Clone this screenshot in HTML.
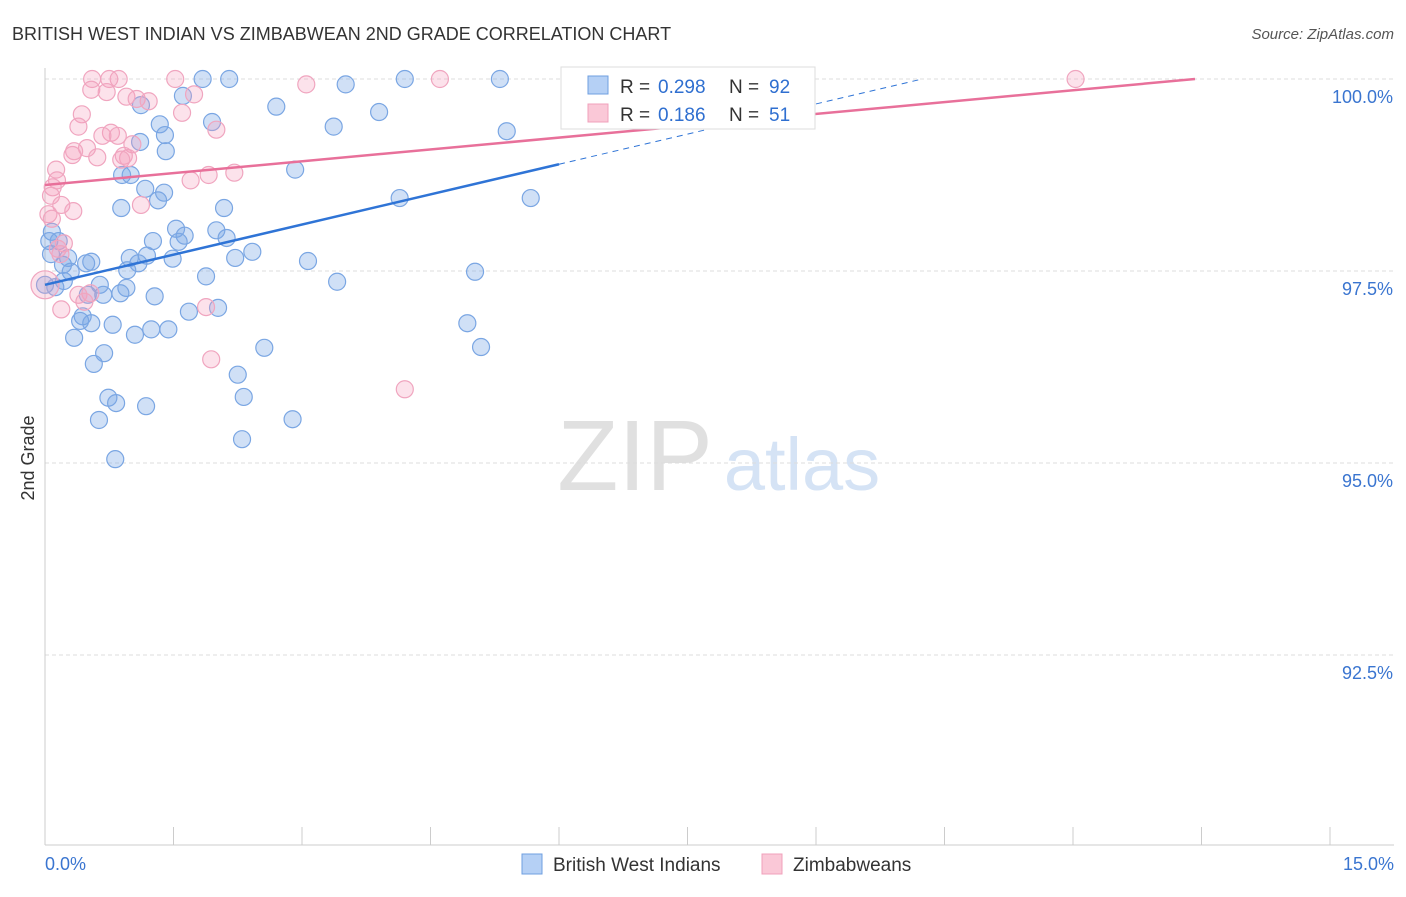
<!DOCTYPE html>
<html><head><meta charset="utf-8"><style>
body{margin:0;background:#fff;font-family:"Liberation Sans",sans-serif;}
svg text{font-family:"Liberation Sans",sans-serif;}
</style></head><body>
<svg id="chart" width="1406" height="892">
<text x="12" y="40" font-size="18" fill="#333">BRITISH WEST INDIAN VS ZIMBABWEAN 2ND GRADE CORRELATION CHART</text>
<text x="1394" y="39" font-size="15" fill="#555" font-style="italic" text-anchor="end">Source: ZipAtlas.com</text>
<text x="34" y="458" font-size="18" fill="#333" text-anchor="middle" transform="rotate(-90 34 458)">2nd Grade</text>
<g><text x="635" y="490" font-size="100" fill="#e0e0e0" font-family="Liberation Serif" text-anchor="middle">ZIP</text><text x="802" y="490" font-size="74" fill="#d5e3f5" text-anchor="middle">atlas</text></g>
<g id="grid"></g><g id="axes"></g><g id="pts"></g><g id="lines"></g>
<g>
<rect x="561" y="67" width="254" height="62" fill="#fff" stroke="#ddd"/>
<rect x="588" y="76" width="20" height="18" fill="#b5d0f5" stroke="#6f9fe0"/>
<text x="620" y="93" font-size="19" fill="#333">R =</text>
<text x="658" y="93" font-size="19" fill="#2f6fd0">0.298</text>
<text x="729" y="93" font-size="19" fill="#333">N =</text>
<text x="769" y="93" font-size="19" fill="#2f6fd0">92</text>
<rect x="588" y="104" width="20" height="18" fill="#fac8d7" stroke="#f0a0bb"/>
<text x="620" y="121" font-size="19" fill="#333">R =</text>
<text x="658" y="121" font-size="19" fill="#2f6fd0">0.186</text>
<text x="729" y="121" font-size="19" fill="#333">N =</text>
<text x="769" y="121" font-size="19" fill="#2f6fd0">51</text>
</g>
<g>
<rect x="522" y="854" width="20" height="20" fill="#b5d0f5" stroke="#6f9fe0"/>
<text x="553" y="871" font-size="19" fill="#333">British West Indians</text>
<rect x="762" y="854" width="20" height="20" fill="#fac8d7" stroke="#f0a0bb"/>
<text x="793" y="871" font-size="19" fill="#333">Zimbabweans</text>
</g>
</svg>
<script>
const blueX=[1.84,2.15,4.20,5.31,3.51,1.61,1.12,2.70,3.90,1.34,1.95,3.37,5.39,1.40,1.11,1.41,2.92,0.90,1.00,1.17,1.39,1.32,4.14,5.67,0.89,2.09,1.53,2.00,0.08,1.63,1.26,2.12,0.05,0.16,1.56,2.42,1.19,0.99,2.22,3.07,0.07,1.49,0.27,0.54,0.48,1.09,0.21,0.96,0.30,1.88,5.02,3.41,0,0.22,0.64,0.12,0.95,0.50,0.68,0.88,1.28,2.02,1.68,0.44,0.41,0.54,0.79,1.24,1.44,4.93,1.05,0.34,0.69,2.56,5.09,0.57,2.25,0.74,0.83,1.18,2.32,0.63,2.89,2.30,0.82];
const blueY=[100,100,100,100,99.93,99.78,99.66,99.64,99.57,99.41,99.44,99.38,99.32,99.27,99.18,99.06,98.82,98.75,98.75,98.57,98.52,98.42,98.45,98.45,98.32,98.32,98.05,98.03,98.01,97.96,97.89,97.93,97.89,97.89,97.88,97.75,97.70,97.67,97.67,97.63,97.72,97.66,97.67,97.62,97.60,97.60,97.58,97.51,97.49,97.43,97.49,97.36,97.32,97.37,97.32,97.29,97.28,97.19,97.19,97.21,97.17,97.02,96.97,96.91,96.85,96.82,96.80,96.74,96.74,96.82,96.67,96.63,96.43,96.50,96.51,96.29,96.15,95.85,95.78,95.74,95.86,95.56,95.57,95.31,95.05];
const pinkX=[0.55,0.86,0.75,1.52,3.05,4.61,12.03,0.54,0.72,0.95,1.74,1.07,1.21,1.60,0.43,0.39,2.00,0.77,0.67,0.85,1.02,0.49,0.34,0.32,0.61,0.92,0.97,0.89,0.13,2.21,1.91,1.70,0.14,0.09,0.07,0.19,0.33,0.04,0.08,1.12,0.22,0.15,0.18,0.53,0.39,0.46,0.19,1.88,1.94,4.20,0];
const pinkY=[100,100,100,100,99.93,100,100,99.86,99.83,99.77,99.80,99.74,99.71,99.56,99.54,99.38,99.34,99.30,99.26,99.26,99.15,99.10,99.06,99.01,98.98,99.00,98.97,98.95,98.82,98.78,98.75,98.68,98.68,98.59,98.48,98.36,98.28,98.24,98.18,98.36,97.86,97.79,97.72,97.21,97.19,97.10,97.00,97.03,96.35,95.96,97.32];
const blueTrend=[97.32,0.2617];
const pinkTrend=[98.62,0.1028];
const yTicks=[100,97.5,95,92.5];
const yTickLabels=["100.0%","97.5%","95.0%","92.5%"];
const xTickVals=[0,1.5,3,4.5,6,7.5,9,10.5,12,13.5,15];
const NS='http://www.w3.org/2000/svg';
const X=v=>45+v/15*1285, Y=v=>79+(100-v)/2.5*192;
function mk(p,t,a){const e=document.createElementNS(NS,t);for(const k in a)e.setAttribute(k,a[k]);document.getElementById(p).appendChild(e);return e;}
yTicks.forEach((t,i)=>{
 const l=mk('grid','line',{x1:45,x2:1394,y1:Y(t),y2:Y(t),stroke:'#ddd','stroke-dasharray':'4,3'});
 
 
 const tx=mk('grid','text',{x:1393,y:Y(t)+24,'font-size':18,fill:'#3a75d0','text-anchor':'end'});tx.textContent=yTickLabels[i];
 
 
});
const ax=mk('axes','line',{x1:45,x2:1394,y1:845,y2:845,stroke:'#ccc'});


const ay=mk('axes','line',{x1:45,x2:45,y1:68,y2:845,stroke:'#ccc'});


xTickVals.forEach(v=>{const t=mk('axes','line',{x1:X(v),x2:X(v),y1:827,y2:845,stroke:'#ccc'});
 
 });
const xl0=mk('axes','text',{x:45,y:870,'font-size':18,fill:'#3a75d0'});xl0.textContent='0.0%';


const xl1=mk('axes','text',{x:1394,y:870,'font-size':18,fill:'#3a75d0','text-anchor':'end'});xl1.textContent='15.0%';


blueX.forEach((v,i)=>{const c=mk('pts','circle',{cx:X(v),cy:Y(blueY[i]),r:8.5,fill:'rgba(120,165,230,0.35)',stroke:'#7aa6e3','stroke-width':1.2});
 
 });
pinkX.forEach((v,i)=>{const c=mk('pts','circle',{cx:X(v),cy:Y(pinkY[i]),r:i==pinkX.length-1?14:8.5,fill:'rgba(245,160,190,0.3)',stroke:'#f0a5bf','stroke-width':1.2});
 
 });
const b1=mk('lines','line',{x1:X(0),y1:Y(blueTrend[0]),x2:X(6),y2:Y(blueTrend[0]+6*blueTrend[1]),stroke:'#2f74d6','stroke-width':2.5});


const xe=(100-blueTrend[0])/blueTrend[1];
const b2=mk('lines','line',{x1:X(6),y1:Y(blueTrend[0]+6*blueTrend[1]),x2:X(xe),y2:Y(100),stroke:'#2f74d6','stroke-width':1,'stroke-dasharray':'6,5'});


const pe=(100-pinkTrend[0])/pinkTrend[1];
const p1=mk('lines','line',{x1:X(0),y1:Y(pinkTrend[0]),x2:X(pe),y2:Y(100),stroke:'#e8709a','stroke-width':2.5});


</script>
</body></html>
